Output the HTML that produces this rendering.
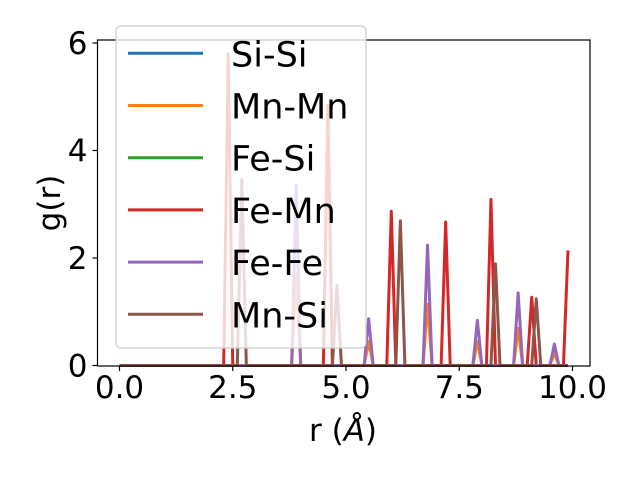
<!DOCTYPE html>
<html><head><meta charset="utf-8"><style>
body{margin:0;background:#fff;}
svg{display:block;font-family:"DejaVu Sans","Liberation Sans",sans-serif;}
</style></head><body>
<svg id="chart" width="640" height="480">
<rect x="0" y="0" width="640" height="480" fill="#fff"/>
<g id="plot"></g>
<g id="axes"></g>
<g id="legend"></g>
</svg>
<script>
const rValues = [0,0.1,0.2,0.3,0.4,0.5,0.6,0.7,0.8,0.9,1,1.1,1.2,1.3,1.4,1.5,1.6,1.7,1.8,1.9,2,2.1,2.2,2.3,2.4,2.5,2.6,2.7,2.8,2.9,3,3.1,3.2,3.3,3.4,3.5,3.6,3.7,3.8,3.9,4,4.1,4.2,4.3,4.4,4.5,4.6,4.7,4.8,4.9,5,5.1,5.2,5.3,5.4,5.5,5.6,5.7,5.8,5.9,6,6.1,6.2,6.3,6.4,6.5,6.6,6.7,6.8,6.9,7,7.1,7.2,7.3,7.4,7.5,7.6,7.7,7.8,7.9,8,8.1,8.2,8.3,8.4,8.5,8.6,8.7,8.8,8.9,9,9.1,9.2,9.3,9.4,9.5,9.6,9.7,9.8,9.9];
const siSi = [0,0,0,0,0,0,0,0,0,0, 0,0,0,0,0,0,0,0,0,0, 0,0,0,0,0,0,0,0,0,0, 0,0,0,0,0,0,0,0,0,0, 0,0,0,0,0,0,0,0,0,0, 0,0,0,0,0,0,0,0,0,0, 0,0,0,0,0,0,0,0,0,0, 0,0,0,0,0,0,0,0,0,0, 0,0,0,0,0,0,0,0,0,0, 0,0,0,0,0,0,0,0,0,0];
const mnMn = [0,0,0,0,0,0,0,0,0,0, 0,0,0,0,0,0,0,0,0,0, 0,0,0,0,0,0,0,0,0,0, 0,0,0,0,0,0,0,0,0,1.69, 0,0,0,0,0,0,0,0,0,0, 0,0,0,0,0,0.45,0,0,0,0, 0,0,0,0,0,0,0,0,1.14,0, 0,0,0,0,0,0,0,0,0,0.44, 0,0,0,0,0,0,0,0,0.69,0, 0,0,0,0,0,0,0.23,0,0,0];
const feSi = [0,0,0,0,0,0,0,0,0,0, 0,0,0,0,0,0,0,0,0,0, 0,0,0,0,0,0,0,0,0,0, 0,0,0,0,0,0,0,0,0,0, 0,0,0,0,0,0,0,0,0,0, 0,0,0,0,0,0,0,0,0,0, 0,0,0,0,0,0,0,0,0,0, 0,0,0,0,0,0,0,0,0,0, 0,0,0,0,0,0,0,0,0,0, 0,0,0,0,0,0,0,0,0,0];
const feMn = [0,0,0,0,0,0,0,0,0,0, 0,0,0,0,0,0,0,0,0,0, 0,0,0,0,5.8,0,0,0,0,0, 0,0,0,0,0,0,0,0,0,0, 0,0,0,0,0,0,4.84,0,0,0, 0,0,0,0,0,0,0,0,0,0, 2.87,0,0,0,0,0,0,0,0,0, 0,0,2.67,0,0,0,0,0,0,0, 0,0,3.09,0,0,0,0,0,0,0, 0,1.27,0,0,0,0,0,0,0,2.14];
const feFe = [0,0,0,0,0,0,0,0,0,0, 0,0,0,0,0,0,0,0,0,0, 0,0,0,0,0,0,0,0,0,0, 0,0,0,0,0,0,0,0,0,3.36, 0,0,0,0,0,0,0,0,0,0, 0,0,0,0,0,0.87,0,0,0,0, 0,0,0,0,0,0,0,0,2.24,0, 0,0,0,0,0,0,0,0,0,0.84, 0,0,0,0,0,0,0,0,1.35,0, 0,0,0,0,0,0,0.40,0,0,0];
const mnSi = [0,0,0,0,0,0,0,0,0,0, 0,0,0,0,0,0,0,0,0,0, 0,0,0,0,0,0,0,3.46,0,0, 0,0,0,0,0,0,0,0,0,0, 0,0,0,0,0,0,0,0,1.49,0, 0,0,0,0,0,0,0,0,0,0, 0,0,2.69,0,0,0,0,0,0,0, 0,0,0,0,0,0,0,0,0,0, 0,0,0,1.89,0,0,0,0,0,0, 0,0,1.24,0,0,0,0,0,0,0];
const seriesNames = ["Si-Si","Mn-Mn","Fe-Si","Fe-Mn","Fe-Fe","Mn-Si"];
const xTicks = [0,2.5,5,7.5,10];
const xTickLabels = ["0.0","2.5","5.0","7.5","10.0"];
const yTicks = [0,2,4,6];
const yTickLabels = ["0","2","4","6"];

const NS="http://www.w3.org/2000/svg";
const L=97.5,R=590,T=40,B=366;
function xs(v){return 119.5+v*45.3;}
function ys(v){return 365.5-v*53.75;}
function mk(tag,attrs,parent){const e=document.createElementNS(NS,tag);for(const k in attrs)e.setAttribute(k,attrs[k]);parent.appendChild(e);return e;}
const colors=["#1f77b4","#ff7f0e","#2ca02c","#d62728","#9467bd","#8c564b"];
const series=[siSi,mnMn,feSi,feMn,feFe,mnSi];
const plot=document.getElementById('plot');
series.forEach((s,i)=>{
  const p=mk('polyline',{points:s.map((v,j)=>xs(rValues[j]).toFixed(2)+','+ys(v).toFixed(2)).join(' '),fill:'none',stroke:colors[i],'stroke-width':3,'stroke-linejoin':'round'},plot);
  
  
});
const ax=document.getElementById('axes');
const frame=mk('rect',{x:L,y:T,width:R-L,height:B-T,fill:'none',stroke:'#000','stroke-width':1.2},ax);


xTicks.forEach((v,i)=>{
  const x=xs(v);
  mk('line',{x1:x,x2:x,y1:B,y2:B+5,stroke:'#000','stroke-width':1.2},ax);
  const t=mk('text',{x:x,y:B+32,'text-anchor':'middle','font-size':31,fill:'#000'},ax);
  t.textContent=xTickLabels[i];
  
  
});
yTicks.forEach((v,i)=>{
  const y=ys(v);
  mk('line',{x1:L-5,x2:L,y1:y,y2:y,stroke:'#000','stroke-width':1.2},ax);
  const t=mk('text',{x:L-10,y:y+11,'text-anchor':'end','font-size':31,fill:'#000'},ax);
  t.textContent=yTickLabels[i];
  
  
});
const xl=mk('text',{x:343,y:441,'text-anchor':'middle','font-size':31,fill:'#000'},ax);
xl.innerHTML='r (<tspan font-style="italic">Å</tspan>)';


const yl=mk('text',{x:0,y:0,'text-anchor':'middle','font-size':31,fill:'#000',transform:'translate(60,203) rotate(-90)'},ax);
yl.textContent='g(r)';


const lg=document.getElementById('legend');
const box=mk('rect',{x:116,y:26,width:250,height:322,rx:5,fill:'rgba(255,255,255,0.8)',stroke:'#cccccc','stroke-width':1.2},lg);


seriesNames.forEach((n,i)=>{
  const y=53.3+i*52.2;
  const g=mk('g',{},lg);
  
  
  mk('line',{x1:128,x2:203,y1:y,y2:y,stroke:colors[i],'stroke-width':3},g);
  const t=mk('text',{x:231,y:y+13,'font-size':35,fill:'#000'},g);
  t.textContent=n;
});
</script>
</body></html>
